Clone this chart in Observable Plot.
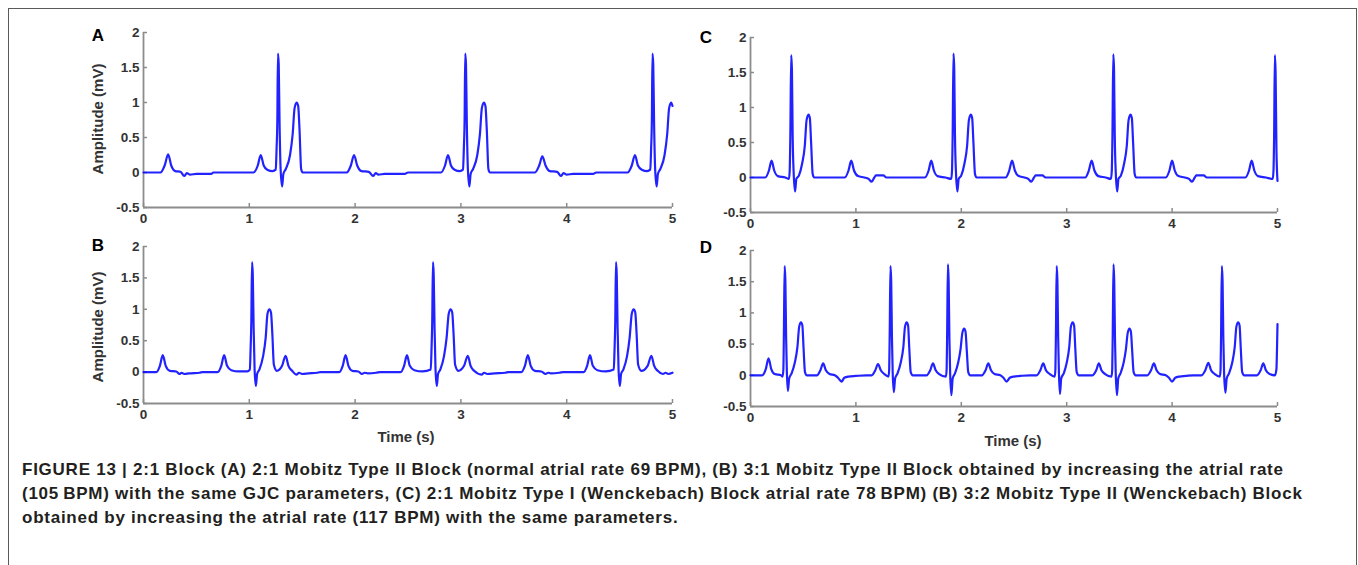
<!DOCTYPE html>
<html>
<head>
<meta charset="utf-8">
<script src="https://cdn.jsdelivr.net/npm/d3@7"></script>
<script src="https://cdn.jsdelivr.net/npm/@observablehq/plot@0.6"></script>
<style>
  html, body { margin: 0; padding: 0; background: #fff; }
  #fig { position: relative; width: 1358px; height: 565px; overflow: hidden; font-family: "Liberation Sans", Arial, sans-serif; }
  #frame { position: absolute; left: 8px; top: 8px; width: 1349px; height: 570px; border: 1.5px solid #5a5a5a; box-sizing: border-box; }
  .panel { position: absolute; }
  .panel svg { overflow: visible; }
  .letter { position: absolute; font-weight: bold; font-size: 17px; color: #000; line-height: 1; transform: translate(-50%, -50%); }
  .ylab { position: absolute; font-weight: bold; font-size: 15px; color: #333; white-space: nowrap; line-height: 1; transform: translate(-50%, -50%) rotate(-90deg); }
  .xlab { position: absolute; font-weight: bold; font-size: 15px; color: #333; white-space: nowrap; line-height: 1; transform: translate(-50%, -50%); }
  #caption { position: absolute; left: 22px; top: 458px; font-weight: bold; font-size: 17px; letter-spacing: 0.75px; line-height: 24px; color: #231f20; white-space: nowrap; }
</style>
</head>
<body>
<div id="fig">
  <div id="frame"></div>
  <div id="caption">FIGURE 13 | 2:1 Block (A) 2:1 Mobitz Type II Block (normal atrial rate 69&#8201;BPM), (B) 3:1 Mobitz Type II Block obtained by increasing the atrial rate<br>(105&#8201;BPM) with the same GJC parameters, (C) 2:1 Mobitz Type I (Wenckebach) Block atrial rate 78&#8201;BPM) (B) 3:2 Mobitz Type II (Wenckebach) Block<br>obtained by increasing the atrial rate (117 BPM) with the same parameters.</div>
</div>
<script>
// Tick values shared by all four panels
const timeTicks = [0, 1, 2, 3, 4, 5];
const ampTicks = [-0.5, 0, 0.5, 1, 1.5, 2];

// Simulated ECG traces: [time (s), amplitude (mV)]
// (A) 2:1 Mobitz Type II, atrial rate 69 BPM
const traceA = [
  [0, 0], [0.16, 0], [0.2, 0.1], [0.233, 0.26], [0.262, 0.1], [0.3, 0.02], [0.35, 0.01], [0.385, -0.05], [0.41, -0.01], [0.44, -0.03], [0.5, -0.02], [0.64, -0.02], [0.66, 0],
  [1.04, 0], [1.08, 0.1], [1.108, 0.25], [1.136, 0.1], [1.17, 0.04], [1.22, 0.02], [1.25, 0.04], [1.258, 0.35], [1.265, 0.75], [1.271, 1.7], [1.278, 1.55], [1.286, 0.7], [1.296, 0.05], [1.31, -0.2], [1.322, -0.02], [1.345, 0.05], [1.385, 0.25], [1.41, 0.55], [1.428, 0.92], [1.447, 1.0], [1.462, 0.95], [1.475, 0.6], [1.49, 0.05], [1.505, 0],
  [1.92, 0], [1.96, 0.1], [1.99, 0.25], [2.02, 0.1], [2.06, 0.02], [2.13, 0.01], [2.17, -0.05], [2.195, -0.01], [2.22, -0.03], [2.28, -0.02], [2.47, -0.02], [2.5, 0],
  [2.81, 0], [2.85, 0.1], [2.878, 0.25], [2.906, 0.1], [2.94, 0.04], [2.99, 0.02], [3.02, 0.04], [3.028, 0.35], [3.035, 0.75], [3.041, 1.7], [3.048, 1.55], [3.056, 0.7], [3.066, 0.05], [3.08, -0.2], [3.092, -0.02], [3.115, 0.05], [3.155, 0.25], [3.18, 0.55], [3.198, 0.92], [3.217, 1.0], [3.232, 0.95], [3.245, 0.6], [3.26, 0.05], [3.275, 0],
  [3.7, 0], [3.74, 0.1], [3.77, 0.23], [3.8, 0.1], [3.84, 0.02], [3.91, 0.01], [3.945, -0.05], [3.97, -0.01], [4.0, -0.03], [4.06, -0.02], [4.25, -0.02], [4.28, 0],
  [4.575, 0], [4.615, 0.1], [4.645, 0.25], [4.673, 0.1], [4.71, 0.04], [4.76, 0.02], [4.79, 0.04], [4.798, 0.35], [4.805, 0.75], [4.811, 1.7], [4.818, 1.55], [4.826, 0.7], [4.836, 0.05], [4.85, -0.2], [4.862, -0.02], [4.885, 0.05], [4.925, 0.25], [4.95, 0.55], [4.968, 0.92], [4.987, 1.0], [5.0, 0.95]
];

// (B) 3:1 Mobitz Type II, atrial rate 105 BPM
const traceB = [
  [0, 0], [0.12, 0], [0.155, 0.1], [0.182, 0.27], [0.21, 0.1], [0.25, 0.02], [0.31, 0.01], [0.34, -0.03], [0.36, -0.01], [0.385, -0.03], [0.43, -0.02], [0.53, -0.01], [0.56, 0],
  [0.7, 0], [0.735, 0.1], [0.762, 0.27], [0.79, 0.1], [0.83, 0.03], [0.9, 0.01], [0.98, 0.01], [1.005, 0.04], [1.012, 0.35], [1.019, 0.8], [1.026, 1.75], [1.033, 1.55], [1.041, 0.7], [1.05, 0.05], [1.062, -0.22], [1.074, -0.03], [1.095, 0.04], [1.13, 0.25], [1.155, 0.55], [1.172, 0.93], [1.19, 1.0], [1.205, 0.95], [1.218, 0.6], [1.232, 0.12], [1.26, 0.02], [1.31, 0.1], [1.343, 0.26], [1.37, 0.1], [1.405, 0.02], [1.445, -0.04], [1.47, -0.01], [1.5, -0.03], [1.56, -0.02], [1.64, -0.01], [1.67, 0],
  [1.85, 0], [1.883, 0.1], [1.91, 0.27], [1.937, 0.1], [1.975, 0.02], [2.03, 0.01], [2.065, -0.03], [2.09, -0.01], [2.12, -0.02], [2.2, -0.01], [2.24, 0],
  [2.43, 0], [2.463, 0.1], [2.49, 0.27], [2.517, 0.1], [2.56, 0.03], [2.64, 0.01], [2.715, 0.04], [2.722, 0.35], [2.729, 0.8], [2.736, 1.75], [2.743, 1.55], [2.751, 0.7], [2.76, 0.05], [2.772, -0.22], [2.784, -0.03], [2.805, 0.04], [2.84, 0.25], [2.865, 0.55], [2.885, 0.93], [2.903, 1.0], [2.918, 0.95], [2.931, 0.6], [2.945, 0.12], [2.975, 0.02], [3.03, 0.1], [3.065, 0.26], [3.092, 0.1], [3.125, 0.02], [3.195, -0.04], [3.22, -0.01], [3.25, -0.03], [3.32, -0.02], [3.42, -0.01], [3.45, 0],
  [3.57, 0], [3.605, 0.1], [3.633, 0.27], [3.66, 0.1], [3.7, 0.02], [3.76, 0.01], [3.8, -0.03], [3.825, -0.01], [3.85, -0.02], [3.93, -0.01], [3.97, 0],
  [4.16, 0], [4.193, 0.1], [4.22, 0.27], [4.247, 0.1], [4.29, 0.03], [4.37, 0.01], [4.445, 0.04], [4.452, 0.35], [4.459, 0.8], [4.466, 1.75], [4.473, 1.55], [4.481, 0.7], [4.49, 0.05], [4.502, -0.22], [4.514, -0.03], [4.535, 0.04], [4.57, 0.25], [4.595, 0.55], [4.615, 0.93], [4.633, 1.0], [4.648, 0.95], [4.661, 0.6], [4.675, 0.12], [4.705, 0.02], [4.765, 0.1], [4.8, 0.26], [4.827, 0.1], [4.86, 0.02], [4.91, -0.03], [4.935, -0.01], [4.96, -0.03], [5.0, -0.01]
];

// (C) 2:1 Mobitz Type I (Wenckebach), atrial rate 78 BPM
const traceC = [
  [0, 0], [0.14, 0], [0.175, 0.1], [0.2, 0.24], [0.225, 0.1], [0.26, 0.02], [0.33, 0], [0.365, -0.02], [0.372, 0.1], [0.378, 0.6], [0.386, 1.75], [0.393, 1.55], [0.4, 0.6], [0.41, 0.05], [0.423, -0.2], [0.435, -0.02], [0.46, 0.03], [0.49, 0.2], [0.515, 0.45], [0.532, 0.82], [0.55, 0.9], [0.563, 0.85], [0.575, 0.5], [0.59, 0.05], [0.605, 0],
  [0.895, 0], [0.93, 0.1], [0.956, 0.24], [0.982, 0.1], [1.02, 0.02], [1.08, 0], [1.12, -0.02], [1.15, -0.06], [1.175, 0], [1.19, 0.03], [1.26, 0.03], [1.29, 0],
  [1.655, 0], [1.69, 0.1], [1.715, 0.24], [1.74, 0.1], [1.775, 0.02], [1.85, 0], [1.905, -0.02], [1.912, 0.1], [1.918, 0.6], [1.926, 1.77], [1.933, 1.55], [1.94, 0.6], [1.95, 0.05], [1.963, -0.2], [1.975, -0.02], [2.0, 0.03], [2.03, 0.2], [2.055, 0.45], [2.072, 0.82], [2.09, 0.9], [2.103, 0.85], [2.115, 0.5], [2.13, 0.05], [2.145, 0],
  [2.42, 0], [2.455, 0.1], [2.482, 0.24], [2.508, 0.1], [2.545, 0.02], [2.6, 0], [2.635, -0.02], [2.664, -0.06], [2.69, 0], [2.705, 0.03], [2.77, 0.03], [2.8, 0],
  [3.175, 0], [3.21, 0.1], [3.237, 0.24], [3.263, 0.1], [3.3, 0.02], [3.37, 0], [3.42, -0.02], [3.428, 0.1], [3.434, 0.6], [3.442, 1.76], [3.449, 1.55], [3.456, 0.6], [3.466, 0.05], [3.479, -0.2], [3.491, -0.02], [3.515, 0.03], [3.545, 0.2], [3.57, 0.45], [3.587, 0.82], [3.605, 0.9], [3.618, 0.85], [3.63, 0.5], [3.645, 0.05], [3.66, 0],
  [3.94, 0], [3.975, 0.1], [4.0, 0.24], [4.025, 0.1], [4.06, 0.02], [4.12, 0], [4.16, -0.02], [4.19, -0.06], [4.215, 0], [4.23, 0.03], [4.3, 0.03], [4.33, 0],
  [4.695, 0], [4.73, 0.1], [4.755, 0.24], [4.78, 0.1], [4.815, 0.02], [4.89, 0], [4.955, -0.02], [4.962, 0.1], [4.968, 0.6], [4.975, 1.75], [4.982, 1.5], [4.99, 0.4], [5.0, -0.05]
];

// (D) 3:2 Mobitz block, atrial rate 117 BPM
const traceD = [
  [0, 0], [0.11, 0], [0.145, 0.1], [0.171, 0.27], [0.197, 0.1], [0.23, 0.02], [0.29, 0], [0.305, -0.02], [0.312, 0.1], [0.317, 0.7], [0.324, 1.75], [0.331, 1.5], [0.338, 0.6], [0.345, 0.05], [0.355, -0.25], [0.367, -0.05], [0.39, 0.03], [0.42, 0.2], [0.445, 0.45], [0.462, 0.78], [0.479, 0.85], [0.492, 0.8], [0.503, 0.45], [0.517, 0.05], [0.535, 0],
  [0.63, 0], [0.663, 0.08], [0.689, 0.19], [0.715, 0.08], [0.75, 0.02], [0.8, 0], [0.83, -0.04], [0.864, -0.1], [0.89, -0.04], [0.93, -0.02], [1.0, -0.01], [1.1, 0],
  [1.15, 0], [1.184, 0.08], [1.21, 0.18], [1.236, 0.08], [1.27, 0.02], [1.31, -0.02], [1.316, 0.1], [1.321, 0.7], [1.328, 1.75], [1.335, 1.5], [1.342, 0.6], [1.349, 0.05], [1.36, -0.27], [1.372, -0.05], [1.395, 0.03], [1.425, 0.2], [1.45, 0.45], [1.466, 0.78], [1.482, 0.85], [1.495, 0.8], [1.506, 0.45], [1.52, 0.05], [1.54, 0],
  [1.67, 0], [1.705, 0.08], [1.731, 0.19], [1.757, 0.08], [1.79, 0.02], [1.855, -0.02], [1.861, 0.1], [1.866, 0.7], [1.873, 1.78], [1.88, 1.5], [1.887, 0.6], [1.894, 0.05], [1.906, -0.32], [1.918, -0.05], [1.94, 0.03], [1.97, 0.2], [1.993, 0.42], [2.01, 0.68], [2.027, 0.75], [2.04, 0.7], [2.052, 0.4], [2.066, 0.05], [2.085, 0],
  [2.195, 0], [2.23, 0.08], [2.256, 0.19], [2.282, 0.08], [2.315, 0.02], [2.37, 0], [2.4, -0.04], [2.43, -0.1], [2.46, -0.04], [2.5, -0.02], [2.56, -0.01], [2.65, 0],
  [2.715, 0], [2.75, 0.08], [2.777, 0.19], [2.803, 0.08], [2.84, 0.02], [2.887, -0.02], [2.893, 0.1], [2.898, 0.7], [2.905, 1.75], [2.912, 1.5], [2.919, 0.6], [2.926, 0.05], [2.936, -0.3], [2.948, -0.05], [2.972, 0.03], [3.0, 0.2], [3.024, 0.45], [3.04, 0.78], [3.057, 0.85], [3.07, 0.8], [3.081, 0.45], [3.095, 0.05], [3.115, 0],
  [3.245, 0], [3.28, 0.08], [3.305, 0.19], [3.33, 0.08], [3.365, 0.02], [3.426, -0.02], [3.432, 0.1], [3.437, 0.7], [3.444, 1.78], [3.451, 1.5], [3.458, 0.6], [3.465, 0.05], [3.477, -0.32], [3.489, -0.05], [3.51, 0.03], [3.54, 0.2], [3.562, 0.42], [3.579, 0.68], [3.596, 0.75], [3.609, 0.7], [3.621, 0.4], [3.635, 0.05], [3.655, 0],
  [3.765, 0], [3.8, 0.08], [3.827, 0.19], [3.853, 0.08], [3.885, 0.02], [3.94, 0], [3.97, -0.04], [4.0, -0.1], [4.03, -0.04], [4.07, -0.02], [4.13, -0.01], [4.2, 0],
  [4.28, 0], [4.315, 0.08], [4.344, 0.2], [4.37, 0.08], [4.405, 0.02], [4.454, -0.02], [4.46, 0.1], [4.465, 0.7], [4.472, 1.75], [4.479, 1.5], [4.486, 0.6], [4.493, 0.05], [4.506, -0.28], [4.518, -0.05], [4.54, 0.03], [4.57, 0.2], [4.594, 0.45], [4.61, 0.78], [4.627, 0.85], [4.64, 0.8], [4.651, 0.45], [4.665, 0.05], [4.685, 0],
  [4.805, 0], [4.84, 0.08], [4.865, 0.19], [4.89, 0.08], [4.925, 0.02], [4.975, 0], [4.99, 0.1], [4.995, 0.4], [5.0, 0.82]
];

const axisColor = "#8c8c8c";
const traceColor = "#0a0aff";

// One ECG panel: left/bottom axes only, ticks pointing into the plot
function ecgPanel(trace, m) {
  return Plot.plot({
    width: m.width,
    height: m.height,
    marginLeft: m.left,
    marginRight: m.right,
    marginTop: m.top,
    marginBottom: m.bottom,
    style: {fontFamily: "'Liberation Sans', Arial, sans-serif", fontSize: "13.5px", fontWeight: "bold", color: "#333", overflow: "visible", background: "transparent"},
    x: {domain: [0, 5]},
    y: {domain: [-0.5, 2]},
    marks: [
      Plot.axisX(timeTicks, {anchor: "bottom", tickSize: -4, tickPadding: 10, stroke: axisColor, strokeWidth: 1.5, fill: "#333", label: null, tickFormat: d => String(d)}),
      Plot.axisY(ampTicks, {anchor: "left", tickSize: -4, tickPadding: 8, stroke: axisColor, strokeWidth: 1.5, fill: "#333", label: null, tickFormat: d => String(d)}),
      Plot.ruleX([0], {stroke: axisColor, strokeWidth: 1.8}),
      Plot.ruleY([-0.5], {stroke: axisColor, strokeWidth: 1.8}),
      Plot.line(trace, {x: d => d[0], y: d => d[1], curve: "monotone-x", stroke: traceColor, strokeWidth: 2.2, strokeOpacity: 0.9})
    ]
  });
}

const fig = document.getElementById("fig");
function place(node, left, top) {
  const wrap = document.createElement("div");
  wrap.className = "panel";
  wrap.style.left = left + "px";
  wrap.style.top = top + "px";
  wrap.appendChild(node);
  fig.appendChild(wrap);
}
function label(cls, text, x, y) {
  const el = document.createElement("div");
  el.className = cls;
  el.textContent = text;
  el.style.left = x + "px";
  el.style.top = y + "px";
  fig.appendChild(el);
}

place(ecgPanel(traceA, {width: 690, height: 235, left: 143, right: 18, top: 32, bottom: 28}), 0, 0);
place(ecgPanel(traceB, {width: 690, height: 213, left: 143, right: 18, top: 11, bottom: 45}), 0, 235);
place(ecgPanel(traceC, {width: 690, height: 235, left: 143, right: 20, top: 37, bottom: 23}), 607, 0);
place(ecgPanel(traceD, {width: 690, height: 213, left: 143, right: 20, top: 15, bottom: 42}), 607, 235);

label("letter", "A", 98, 35);
label("letter", "B", 98, 245);
label("letter", "C", 706, 37);
label("letter", "D", 706, 247);
label("ylab", "Amplitude (mV)", 97, 119);
label("ylab", "Amplitude (mV)", 97, 327);
label("xlab", "Time (s)", 406, 436);
label("xlab", "Time (s)", 1013, 440);
</script>
</body>
</html>
